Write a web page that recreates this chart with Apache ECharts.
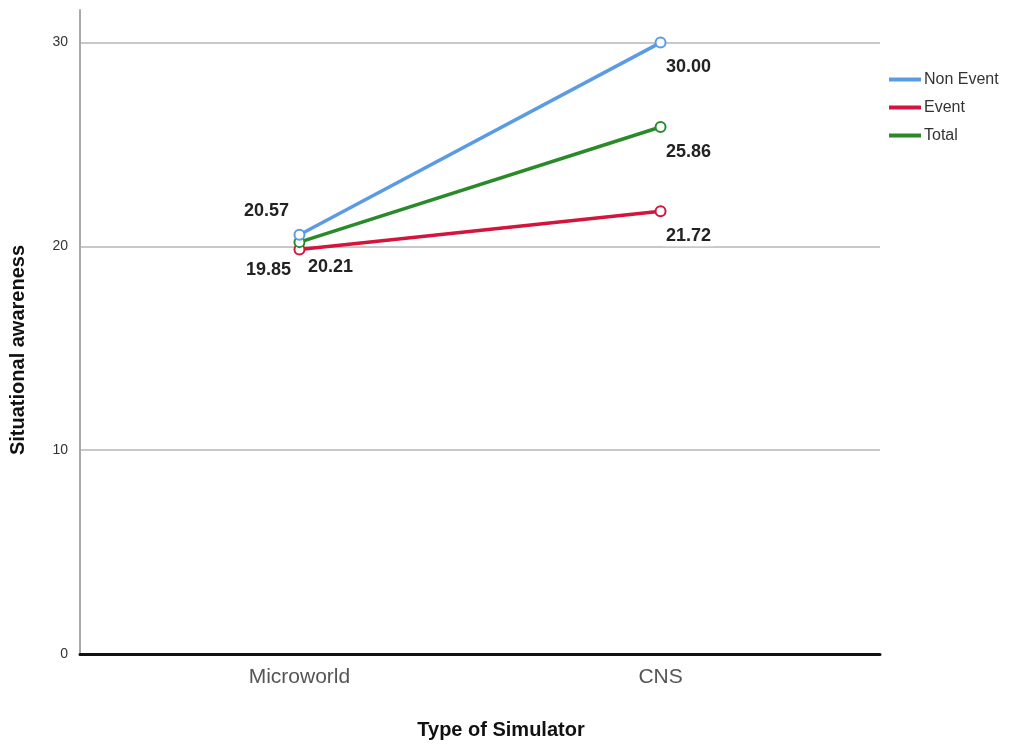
<!DOCTYPE html>
<html>
<head>
<meta charset="utf-8">
<script src="https://cdn.jsdelivr.net/npm/echarts@6/dist/echarts.min.js"></script>
<style>
html, body { margin: 0; padding: 0; background: #fff; }
#main { width: 1016px; height: 745px; }
</style>
</head>
<body>
<div id="main"></div>
<script>
var categories = ['Microworld', 'CNS'];
var nonEvent = [20.57, 30.00];
var eventVals = [19.85, 21.72];
var total = [20.21, 25.86];
var yTicks = [0, 10, 20, 30];

// label offsets per point [x, y]
var offNon = [[-33, -24], [28, 24]];
var offEvent = [[-31, 21], [28, 25]];
var offTotal = [[31, 25], [28, 25]];

function pts(vals, offs) {
	return vals.map(function (v, i) {
		return {
			value: [i, v],
			label: { offset: offs[i] }
		};
	});
}

var labelStyle = {
	show: true,
	position: 'inside',
	formatter: function (p) { return p.value[1].toFixed(2); },
	fontFamily: 'Liberation Sans',
	fontWeight: 'bold',
	fontSize: 18,
	color: '#222',
	backgroundColor: '#fff',
	padding: [1, 3]
};

var chart = echarts.init(document.getElementById('main'));
var option = {
	animation: false,
	textStyle: { fontFamily: 'Liberation Sans' },
	grid: { left: 78, right: 136, top: 10, bottom: 91 },
	legend: {
		orient: 'vertical',
		left: 884,
		top: 66,
		itemWidth: 32,
		itemHeight: 4,
		itemGap: 11,
		icon: 'rect',
		textStyle: { fontSize: 16, color: '#333', lineHeight: 17, padding: [0, 0, 0, -2] },
		data: ['Non Event', 'Event', 'Total']
	},
	xAxis: {
		type: 'value',
		min: -0.6077,
		max: 1.6077,
		name: 'Type of Simulator',
		nameLocation: 'middle',
		nameGap: 66,
		nameTextStyle: { fontSize: 20, fontWeight: 'bold', color: '#111', padding: [0, 0, 0, 42] },
		axisLine: { show: true, lineStyle: { color: '#111', width: 3 } },
		axisTick: { show: false },
		splitLine: { show: false },
		axisLabel: {
			customValues: [0, 1],
			formatter: function (v) { return categories[Math.round(v)]; },
			fontSize: 21,
			color: '#555',
			margin: 13
		}
	},
	yAxis: {
		type: 'value',
		min: 0,
		max: 31.6,
		interval: 10,
		name: 'Situational awareness',
		nameLocation: 'middle',
		nameGap: 52,
		nameTextStyle: { fontSize: 20, fontWeight: 'bold', color: '#111', padding: [0, 0, 0, -36] },
		axisLine: { show: true, onZero: false, lineStyle: { color: '#a8a8a8', width: 2 } },
		axisTick: { show: false },
		axisLabel: {
			customValues: yTicks,
			fontSize: 14,
			color: '#333',
			margin: 12
		},
		splitLine: {
			show: true,
			showMinLine: false,
			showMaxLine: false,
			lineStyle: { color: '#c8c8c8', width: 2 }
		}
	},
	series: [{
		name: 'Event',
		type: 'line',
		data: pts(eventVals, offEvent),
		symbol: 'emptyCircle',
		symbolSize: 10,
		color: '#d3143c',
		lineStyle: { width: 3.5 },
		label: labelStyle,
		z: 3
	}, {
		name: 'Total',
		type: 'line',
		data: pts(total, offTotal),
		symbol: 'emptyCircle',
		symbolSize: 10,
		color: '#2a8a2a',
		lineStyle: { width: 3.5 },
		label: labelStyle,
		z: 4
	}, {
		name: 'Non Event',
		type: 'line',
		data: pts(nonEvent, offNon),
		symbol: 'emptyCircle',
		symbolSize: 10,
		color: '#5b9be4',
		lineStyle: { width: 3.5 },
		label: labelStyle,
		z: 5
	}]
};
chart.setOption(option);
window.onresize = chart.resize;
</script>
</body>
</html>
